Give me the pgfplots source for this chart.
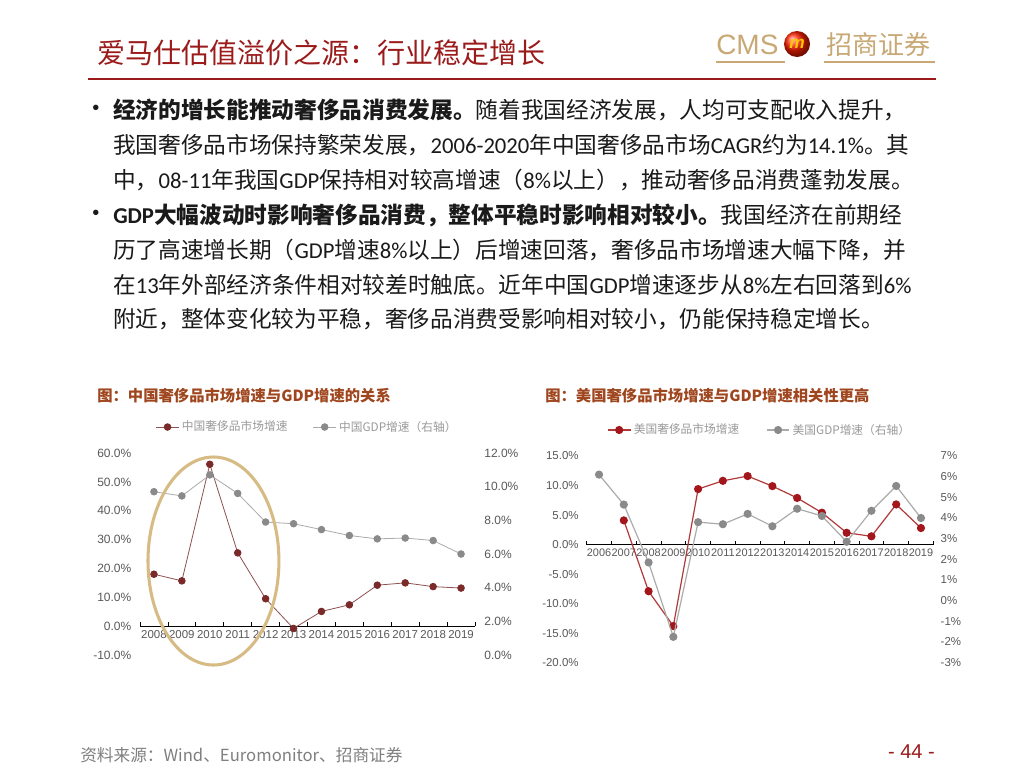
\documentclass[border=0pt]{standalone}
\usepackage{pgfplots}
\usepackage{pgfplotstable}
\pgfplotsset{compat=1.18}
\usepackage{fontspec}
\setmainfont{Liberation Sans}
\newfontfamily\cjk{Noto Sans CJK SC}
\newfontfamily\latfont{Carlito}
\newcommand\latn[1]{{\latfont #1}}
\definecolor{titlered}{HTML}{9B1B1B}
\definecolor{gold}{HTML}{C8A875}
\definecolor{charttitle}{HTML}{A0461E}
\definecolor{ticktext}{HTML}{595959}
\definecolor{legtext}{HTML}{9A9A9A}
\definecolor{cnred}{HTML}{7B2A2A}
\definecolor{cnredline}{HTML}{8E5050}
\definecolor{usred}{HTML}{A3161C}
\definecolor{usredline}{HTML}{B03A3A}
\definecolor{gdpgray}{HTML}{8A8A8A}
\definecolor{gdpline}{HTML}{ABABAB}
\definecolor{ellgold}{HTML}{D6BC84}
\definecolor{bodytext}{HTML}{1A1A1A}
\definecolor{footgray}{HTML}{7F7F7F}

\pgfplotstableread{
x lux gdp
0 18.0 9.7
1 15.7 9.45
2 56.1 10.7
3 25.4 9.6
4 9.5 7.9
5 -0.8 7.8
6 5.1 7.45
7 7.4 7.1
8 14.2 6.9
9 15.0 6.95
10 13.7 6.8
11 13.2 6.0
}\cntab

\pgfplotstableread{
x lux
1 4.1
2 -7.9
3 -13.8
4 9.4
5 10.8
6 11.6
7 9.9
8 7.9
9 5.4
10 2.0
11 1.4
12 6.8
13 2.8
}\usluxtab

\pgfplotstableread{
x gdp
0 6.1
1 4.65
2 1.85
3 -1.75
4 3.8
5 3.7
6 4.2
7 3.6
8 4.45
9 4.1
10 2.85
11 4.35
12 5.55
13 4.0
}\usgdptab

\pgfplotsset{
  chartbase/.style={
    scale only axis,
    clip=false,
    /pgf/number format/assume math mode=true,
    tick label style={text=ticktext},
  },
  leftax/.style={
    axis x line*=middle, axis y line*=left,
    y axis line style={draw=none},
    x axis line style={black, line width=0.9pt},
    major x tick style={draw=none},
    minor x tick style={black, line width=0.6pt},
    minor tick length=3pt,
    tick align=inside,
    ytick style={draw=none},
  },
  rightax/.style={
    axis x line=none, axis y line*=right,
    y axis line style={draw=none},
    ytick style={draw=none},
  },
}

\begin{document}
\begin{tikzpicture}
\path[fill=white] (0,0) rectangle (768pt,-576pt);
\path[use as bounding box] (0,0) rectangle (768pt,-576pt);

\begin{scope}[x=0.75pt,y=-0.75pt]
% slide title
\node[anchor=west, inner sep=0, text=titlered, font=\cjk\fontsize{21}{24}\selectfont] at (97,53) {爱马仕估值溢价之源：行业稳定增长};
\draw[titlered, line width=1.1pt] (88,79) -- (936,79);
% logo
\node[anchor=west, inner sep=0, text=gold, font=\fontsize{21}{24}\selectfont] at (716,45) {CMS};
\shade[ball color=red!75!orange] (797,44) circle (9.75pt);
\node[text=yellow!60!orange, font=\fontsize{13}{13}\selectfont\bfseries\itshape] at (797,44) {m};
\node[anchor=west, inner sep=0, text=gold, font=\cjk\fontsize{19.5}{24}\selectfont] at (826,45) {招商证券};
\draw[gold, line width=1.1pt] (716,62) -- (785,62);
\draw[gold, line width=1.1pt] (824,62) -- (935,62);

% body text
\begin{scope}[every node/.style={anchor=west, inner sep=0, text=bodytext, font=\cjk\fontsize{17}{20}\selectfont}]
\node[font=\fontsize{15}{16}\selectfont] at (92,110) {•};
\node at (113,110) {{\bfseries 经济的增长能推动奢侈品消费发展。}随着我国经济发展，人均可支配收入提升，};
\node at (113,145) {我国奢侈品市场保持繁荣发展，\latn{2006-2020}年中国奢侈品市场\latn{CAGR}约为\latn{14.1\%}。其};
\node at (113,180) {中，\latn{08-11}年我国\latn{GDP}保持相对较高增速（\latn{8\%}以上），推动奢侈品消费蓬勃发展。};
\node[font=\fontsize{15}{16}\selectfont] at (92,215) {•};
\node at (113,215) {{\bfseries \latn{GDP}大幅波动时影响奢侈品消费，整体平稳时影响相对较小。}我国经济在前期经};
\node at (113,250) {历了高速增长期（\latn{GDP}增速\latn{8\%}以上）后增速回落，奢侈品市场增速大幅下降，并};
\node at (113,285) {在\latn{13}年外部经济条件相对较差时触底。近年中国\latn{GDP}增速逐步从\latn{8\%}左右回落到\latn{6\%}};
\node at (113,319) {附近，整体变化较为平稳，奢侈品消费受影响相对较小，仍能保持稳定增长。};
\end{scope}

% chart titles
\node[anchor=west, inner sep=0, text=charttitle, font=\cjk\bfseries\fontsize{11.5}{14}\selectfont] at (97,396) {图：中国奢侈品市场增速与GDP增速的关系};
\node[anchor=west, inner sep=0, text=charttitle, font=\cjk\bfseries\fontsize{11.5}{14}\selectfont] at (545,396) {图：美国奢侈品市场增速与GDP增速相关性更高};

% footer
\node[anchor=west, inner sep=0, text=footgray, font=\cjk\fontsize{12.5}{14}\selectfont] at (80,755) {资料来源：Wind、Euromonitor、招商证券};
\node[anchor=east, inner sep=0, text=titlered, font=\fontsize{15}{16}\selectfont] at (935,752) {- 44 -};
\end{scope}

% ===== left chart =====
\begin{axis}[chartbase, leftax,
  at={(105pt,-491.25pt)}, anchor=south west,
  width=251.25pt, height=151.5pt,
  xmin=-0.5, xmax=11.5, ymin=-10, ymax=60,
  tick label style={font=\fontsize{8.6}{10}\selectfont},
  yticklabel style={font=\fontsize{9}{10}\selectfont, xshift=-3pt},
  xtick={0,...,11},
  xticklabels={2008,2009,2010,2011,2012,2013,2014,2015,2016,2017,2018,2019},
  minor xtick={-0.5,0.5,...,11.5},
  ytick={-10,0,...,60},
  yticklabel={\pgfmathprintnumber[fixed,fixed zerofill,precision=1]{\tick}\%},
  legend columns=2,
  legend style={at={(0.5,1)}, anchor=center, yshift=19.5pt, draw=none, fill=none,
    font=\cjk\fontsize{8.8}{10}\selectfont, text=legtext,
    /tikz/every even column/.append style={column sep=17pt}},
]
\addplot[color=cnredline, line width=0.6pt, mark=*, mark size=2.5pt, mark options={fill=cnred, draw=cnred}] table[x=x, y=lux] {\cntab};
\addlegendentry{中国奢侈品市场增速}
\addlegendimage{color=gdpline, line width=0.6pt, mark=*, mark size=2.5pt, mark options={fill=gdpgray, draw=gdpgray}}
\addlegendentry{中国GDP增速（右轴）}
\end{axis}
\begin{axis}[chartbase, rightax,
  at={(105pt,-491.25pt)}, anchor=south west,
  width=251.25pt, height=151.5pt,
  xmin=-0.5, xmax=11.5, ymin=0, ymax=12,
  yticklabel style={font=\fontsize{9}{10}\selectfont, xshift=3.5pt},
  ytick={0,2,...,12},
  yticklabel={\pgfmathprintnumber[fixed,fixed zerofill,precision=1]{\tick}\%},
]
\addplot[color=gdpline, line width=0.6pt, mark=*, mark size=2.5pt, mark options={fill=gdpgray, draw=gdpgray}] table[x=x, y=gdp] {\cntab};
\end{axis}

% ===== right chart =====
\begin{axis}[chartbase, leftax,
  at={(440pt,-497pt)}, anchor=south west,
  width=260pt, height=155pt,
  xmin=-0.5, xmax=13.5, ymin=-20, ymax=15,
  tick label style={font=\fontsize{8.2}{10}\selectfont},
  yticklabel style={font=\fontsize{8.6}{10}\selectfont, xshift=-2.5pt},
  xtick={0,...,13},
  xticklabels={2006,2007,2008,2009,2010,2011,2012,2013,2014,2015,2016,2017,2018,2019},
  minor xtick={-0.5,0.5,...,13.5},
  ytick={-20,-15,...,15},
  yticklabel={\pgfmathprintnumber[fixed,fixed zerofill,precision=1]{\tick}\%},
  legend columns=2,
  legend style={at={(0.5,1)}, anchor=center, yshift=19.5pt, draw=none, fill=none,
    font=\cjk\fontsize{8.8}{10}\selectfont, text=legtext,
    /tikz/every even column/.append style={column sep=18pt}},
]
\addplot[color=usredline, line width=0.9pt, mark=*, mark size=2.6pt, mark options={fill=usred, draw=usred}] table[x=x, y=lux] {\usluxtab};
\addlegendentry{美国奢侈品市场增速}
\addlegendimage{color=gdpline, line width=0.9pt, mark=*, mark size=2.6pt, mark options={fill=gdpgray, draw=gdpgray}}
\addlegendentry{美国GDP增速（右轴）}
\end{axis}
\begin{axis}[chartbase, rightax,
  at={(440pt,-497pt)}, anchor=south west,
  width=260pt, height=155pt,
  xmin=-0.5, xmax=13.5, ymin=-3, ymax=7,
  yticklabel style={font=\fontsize{8.6}{10}\selectfont, xshift=2pt},
  ytick={-3,-2,...,7},
  yticklabel={\pgfmathprintnumber[fixed,precision=0]{\tick}\%},
]
\addplot[color=gdpline, line width=0.9pt, mark=*, mark size=2.6pt, mark options={fill=gdpgray, draw=gdpgray}] table[x=x, y=gdp] {\usgdptab};
\end{axis}

% highlight ellipse
\draw[ellgold, line width=2.3pt] (160.1pt,-420.75pt) ellipse [x radius=49.1pt, y radius=78pt];
\end{tikzpicture}
\end{document}
